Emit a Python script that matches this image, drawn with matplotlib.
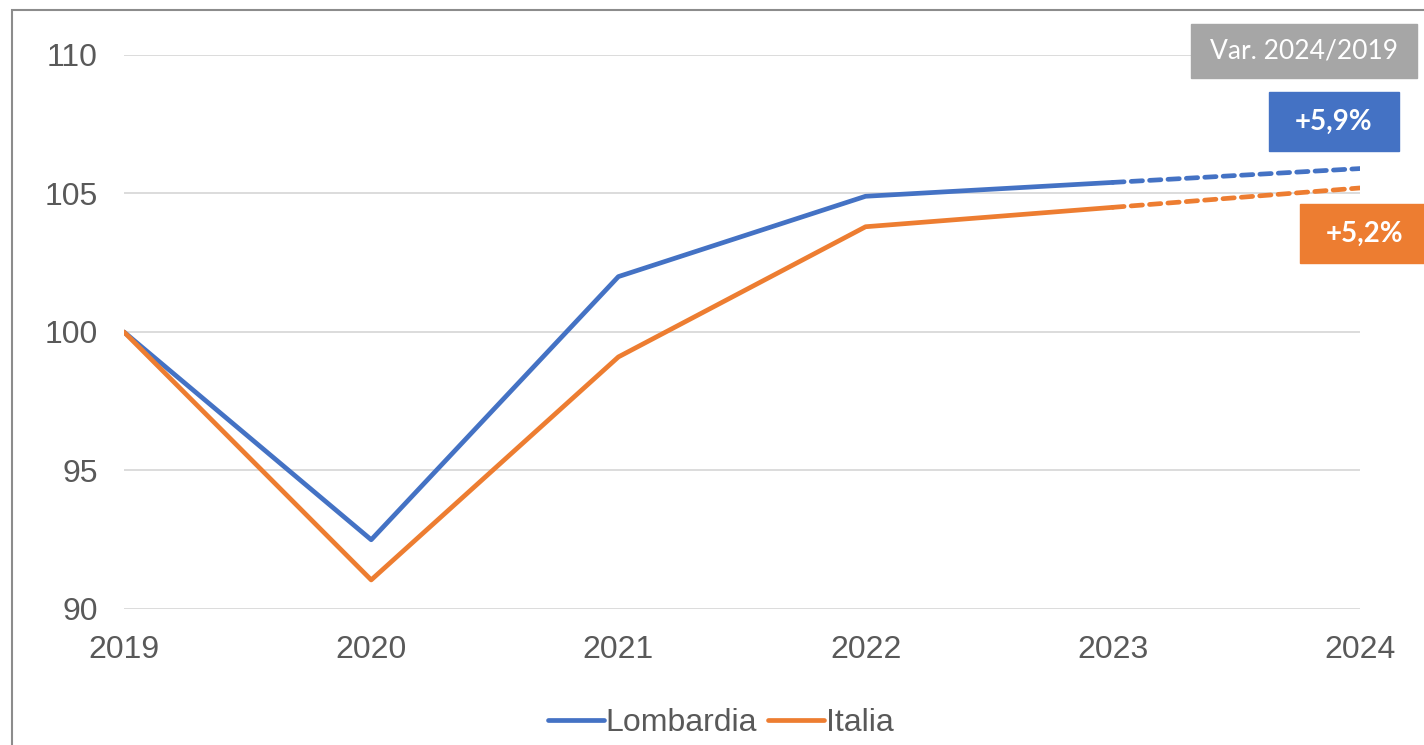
import numpy as np
import matplotlib
matplotlib.use("Agg")
import matplotlib.pyplot as plt
from matplotlib.patches import Rectangle

years = [2019, 2020, 2021, 2022, 2023, 2024]
lombardia = [100, 92.5, 102.0, 104.9, 105.4, 105.9]
italia = [100, 91.05, 99.1, 103.8, 104.5, 105.2]
var_title = "Var. 2024/2019"
var_lombardia = "+5,9%"
var_italia = "+5,2%"

blue = "#4472C4"
orange = "#ED7D31"
grey_txt = "#595959"

W, H = 1424, 745
fig = plt.figure(figsize=(W / 100, H / 100), dpi=100)
ax = fig.add_axes([124 / W, 1 - 609 / H, (1360 - 124) / W, (609 - 55) / H])

# outer frame (right and bottom edges fall outside the picture)
fig.patches.append(Rectangle((12 / W, -0.2), 1.2, 1.2 - 10 / H, transform=fig.transFigure,
                             fill=False, edgecolor="#8c8c8c", lw=1.5))

x = np.arange(len(years))
for vals, col, name in [(lombardia, blue, "Lombardia"), (italia, orange, "Italia")]:
    ax.plot(x[:5], vals[:5], color=col, lw=3.4, solid_capstyle="round",
            solid_joinstyle="round", label=name, zorder=3)
    ax.plot(x[4:], vals[4:], color=col, lw=3.4, dashes=(2.4, 1.5),
            dash_capstyle="round", zorder=3)

ax.set_xlim(0, 5)
ax.set_ylim(90, 110)
ax.set_yticks([90, 95, 100, 105, 110])
ax.set_xticks(x)
ax.set_xticklabels([str(y) for y in years])
ax.grid(axis="y", color="#d9d9d9", lw=1.3)
ax.set_axisbelow(True)
for s in ax.spines.values():
    s.set_visible(False)
ax.tick_params(length=0, labelsize=23, labelcolor=grey_txt)
ax.tick_params(axis="y", pad=19)
ax.tick_params(axis="x", pad=19)
for lab in ax.get_xticklabels() + ax.get_yticklabels():
    lab.set_family("Liberation Sans")

leg = ax.legend(loc="center", bbox_to_anchor=(0.483, (1 - 723 / H - (1 - 609 / H)) / ((609 - 55) / H)),
                ncol=2, frameon=False, handlelength=1.75, handletextpad=0.05, columnspacing=0.35,
                prop={"family": "Liberation Sans", "size": 23})
for t in leg.get_texts():
    t.set_color(grey_txt)
for l in leg.get_lines():
    l.set_solid_capstyle("round")

# variation boxes
boxes = [
    (1191, 24, 1417, 78, "#A6A6A6", var_title, "normal", 19),
    (1269, 92, 1399, 151, blue, var_lombardia, "bold", 20),
    (1300, 204, 1430, 263, orange, var_italia, "bold", 20),
]
for x0, y0, x1, y1, col, txt, wt, fs in boxes:
    fig.patches.append(Rectangle((x0 / W, 1 - y1 / H), (x1 - x0) / W, (y1 - y0) / H,
                                 transform=fig.transFigure, color=col, zorder=5))
    fig.text((x0 + x1) / 2 / W, 1 - (y0 + y1) / 2 / H, txt, color="white", ha="center",
             va="center", fontsize=fs, fontweight=wt, family="Lato", zorder=6)

fig.savefig("out.png", dpi=100)
